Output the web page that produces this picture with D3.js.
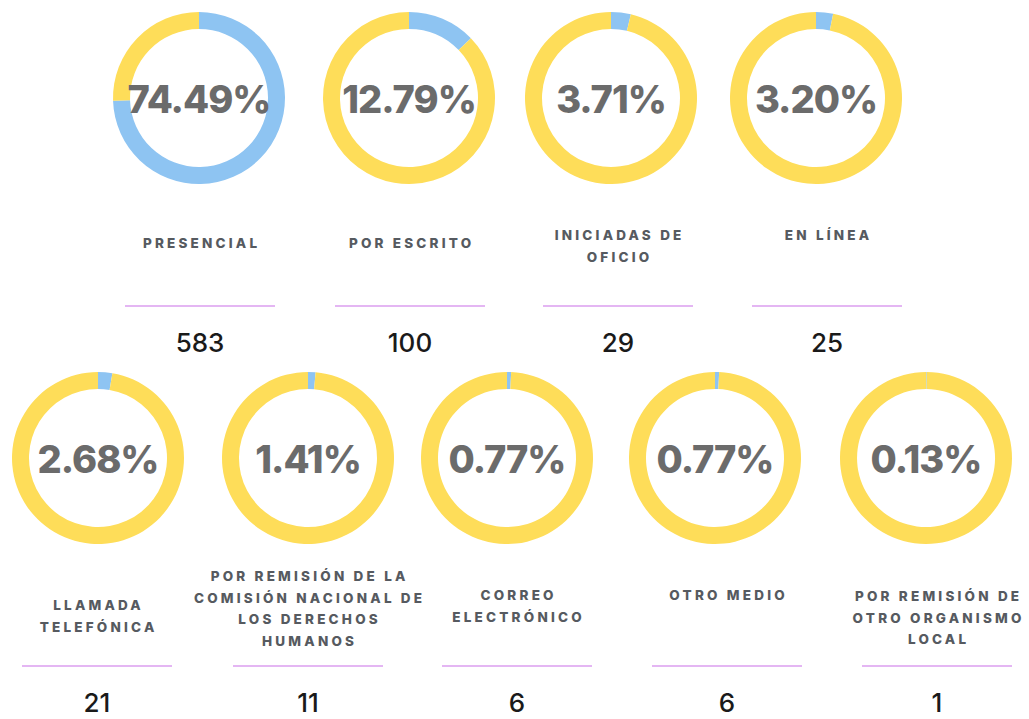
<!DOCTYPE html>
<html>
<head>
<meta charset="utf-8">
<script src="https://cdn.jsdelivr.net/npm/d3@7"></script>
<style>
  body { margin: 0; background: #fff; }
  svg { display: block; }
</style>
</head>
<body>
<svg id="chart"></svg>
<script>
const width = 1029;
const height = 719;

// data
const categories = [
  ['PRESENCIAL'],
  ['POR ESCRITO'],
  ['INICIADAS DE', 'OFICIO'],
  ['EN LÍNEA'],
  ['LLAMADA', 'TELEFÓNICA'],
  ['POR REMISIÓN DE LA', 'COMISIÓN NACIONAL DE', 'LOS DERECHOS', 'HUMANOS'],
  ['CORREO', 'ELECTRÓNICO'],
  ['OTRO MEDIO'],
  ['POR REMISIÓN DE', 'OTRO ORGANISMO', 'LOCAL']
];
const percents = [74.49, 12.79, 3.71, 3.20, 2.68, 1.41, 0.77, 0.77, 0.13];
const counts = [583, 100, 29, 25, 21, 11, 6, 6, 1];
const rowOf = [0, 0, 0, 0, 1, 1, 1, 1, 1];

// layout
const rowY = [98, 458];
const donutX = [[199, 409, 611, 816], [98, 308, 507, 715, 926]];
const textX = [[200, 410, 618, 827], [97, 308, 517, 727, 937]];
const labelDy = [150, 150, 142, 142, 152, 123, 142, 142, 143]; // first label baseline below donut centre
const outerR = 86, innerR = 69;
const colors = { part: '#8ec4f2', rest: '#fedd59' };

const svg = d3.select('#chart')
  .attr('width', width)
  .attr('height', height);

const xDonut = donutX.map(r => d3.scaleOrdinal().domain(d3.range(r.length)).range(r));
const xText = textX.map(r => d3.scaleOrdinal().domain(d3.range(r.length)).range(r));

const items = percents.map((p, i) => {
  const row = rowOf[i];
  const col = i - (row === 0 ? 0 : 4);
  return { p, count: counts[i], lines: categories[i], row, col, dy: labelDy[i] };
});

const pie = d3.pie().sort(null).value(d => d);
const arc = d3.arc().innerRadius(innerR).outerRadius(outerR);

// donuts
const donut = svg.selectAll('g.donut')
  .data(items)
  .join('g')
  .attr('class', 'donut')
  .attr('transform', d => `translate(${xDonut[d.row](d.col)},${rowY[d.row]})`);

donut.selectAll('path')
  .data(d => pie([d.p, 100 - d.p]))
  .join('path')
  .attr('d', arc)
  .attr('fill', (d, i) => i === 0 ? colors.part : colors.rest);

donut.append('text')
  .attr('text-anchor', 'middle')
  .attr('y', 15)
  .style('font-family', 'Inter, "Open Sans", sans-serif')
  .style('font-weight', 800)
  .style('font-size', '38px')
  .style('letter-spacing', '-1px')
  .style('fill', '#6b6b6b')
  .text(d => d.p.toFixed(2) + '%');

// labels, rule, counts
const info = svg.selectAll('g.info')
  .data(items)
  .join('g')
  .attr('class', 'info')
  .attr('transform', d => `translate(${xText[d.row](d.col)},${rowY[d.row]})`);

info.append('text')
  .attr('text-anchor', 'middle')
  .style('font-family', 'Inter, "Open Sans", sans-serif')
  .style('font-weight', 800)
  .style('font-size', '13.5px')
  .style('letter-spacing', '3.2px')
  .style('fill', '#565a60')
  .selectAll('tspan')
  .data(d => d.lines.map((t, i) => ({ t, y: d.dy + i * 21.7 })))
  .join('tspan')
  .attr('x', 1.6)
  .attr('y', d => d.y)
  .text(d => d.t);

info.append('line')
  .attr('x1', -75).attr('x2', 75)
  .attr('y1', 208).attr('y2', 208)
  .attr('stroke', '#e4b6f3')
  .attr('stroke-width', 2);

info.append('text')
  .attr('text-anchor', 'middle')
  .attr('y', 254)
  .style('font-family', 'Inter, "Open Sans", sans-serif')
  .style('font-weight', 500)
  .style('font-size', '26px')
  .style('fill', '#1a1a1a')
  .text(d => d.count);
</script>
</body>
</html>
